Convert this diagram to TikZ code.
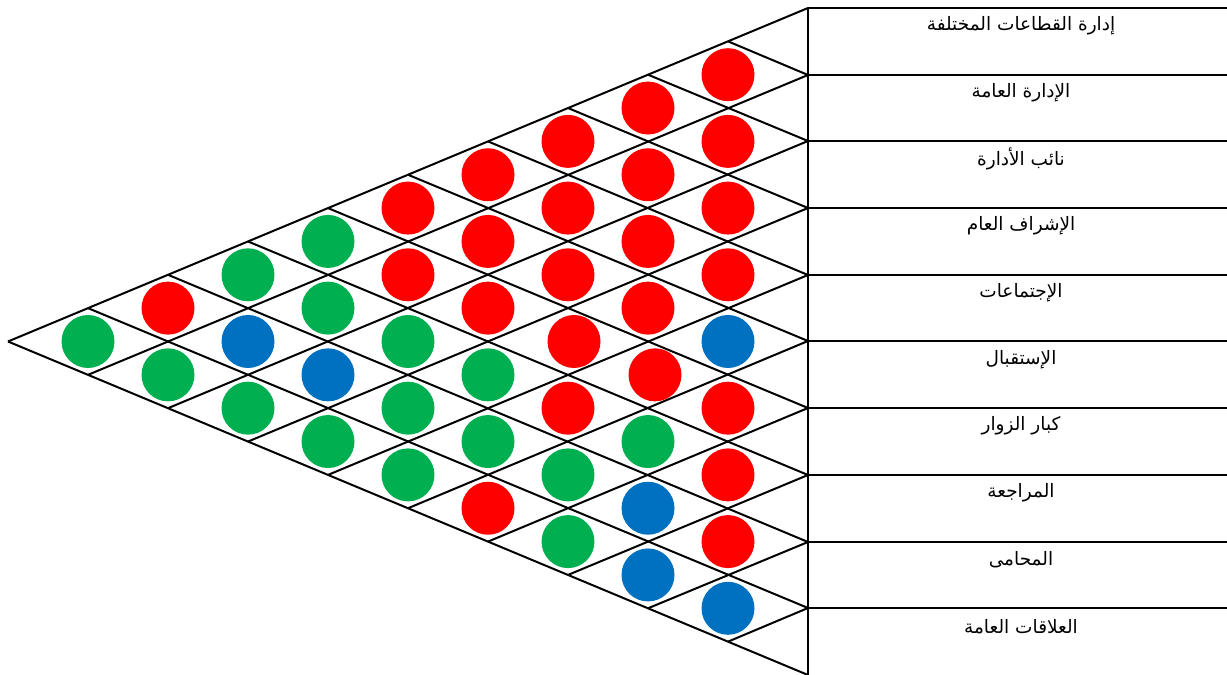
\documentclass[tikz,border=0pt]{standalone}
\usepackage{fontspec}
\newfontfamily\arabicfont[Script=Arabic]{DejaVu Sans}
\TeXXeTstate=1
\definecolor{cred}{HTML}{FF0000}
\definecolor{cgreen}{HTML}{00B050}
\definecolor{cblue}{HTML}{0070C0}
\begin{document}
\begin{tikzpicture}[x=1pt,y=1pt,
  gridline/.style={line width=2pt,black},
  dot/.style={circle,minimum size=53pt,inner sep=0pt,draw=none},
  lab/.style={font=\arabicfont\fontsize{18.5}{22}\selectfont,inner sep=0pt,anchor=center}]
\useasboundingbox (0,0) rectangle (1227,675);
% boundary coordinates on the vertical line
\foreach \k in {0,...,10}{
  \coordinate (b\k) at (808,{round(667-\k*66.7)});
  \coordinate (dl\k) at ({808-(10-\k)*80},{667-(10+\k)*33.35});
  \coordinate (ul\k) at ({808-\k*80},{667-\k*33.35});
}
% diagonal grid
\foreach \k in {0,...,9}{\draw[gridline] (b\k) -- (dl\k);}
\foreach \k in {1,...,10}{\draw[gridline] (b\k) -- (ul\k);}
% table
\draw[gridline] (b0) -- (b10);
\foreach \k in {0,...,9}{\draw[gridline] (b\k) -- ++(419,0);}
% labels
\foreach \i/\t in {0/{إدارة القطاعات المختلفة},1/{الإدارة العامة},2/{نائب الأدارة},3/{الإشراف العام},4/{الإجتماعات},5/{الإستقبال},6/{كبار الزوار},7/{المراجعة},8/{المحامى},9/{العلاقات العامة}}{
  \node[lab] (l\i) at (1021,{667-\i*66.7-18}) {\beginR\t\endR};
}
% circles: i/j/colour/dx/dy
\foreach \i/\j/\c/\ox/\oy in {
 0/1/cred/0/0,1/2/cred/0/0,2/3/cred/0/0,3/4/cred/0/0,4/5/cblue/0/0,5/6/cred/0/0,6/7/cred/0/0,7/8/cred/0/0,8/9/cblue/0/0,
 0/2/cred/0/0,1/3/cred/0/0,2/4/cred/0/0,3/5/cred/0/0,4/6/cred/7/0,5/7/cgreen/0/0,6/8/cblue/0/0,7/9/cblue/0/0,
 0/3/cred/0/0,1/4/cred/0/0,2/5/cred/0/0,3/6/cred/6/0,4/7/cred/0/0,5/8/cgreen/0/0,6/9/cgreen/0/0,
 0/4/cred/0/0,1/5/cred/0/0,2/6/cred/0/0,3/7/cgreen/0/0,4/8/cgreen/0/0,5/9/cred/0/0,
 0/5/cred/0/0,1/6/cred/0/0,2/7/cgreen/0/0,3/8/cgreen/0/0,4/9/cgreen/0/0,
 0/6/cgreen/0/0,1/7/cgreen/0/0,2/8/cblue/0/0,3/9/cgreen/0/0,
 0/7/cgreen/0/0,1/8/cblue/0/0,2/9/cgreen/0/0,
 0/8/cred/0/0,1/9/cgreen/0/0,
 0/9/cgreen/0/0}{
  \node[dot,fill=\c] (c\i-\j) at ({808-(\j-\i)*80+\ox},{667-(\i+\j+1)*33.35+\oy}) {};
}
\end{tikzpicture}
\end{document}
